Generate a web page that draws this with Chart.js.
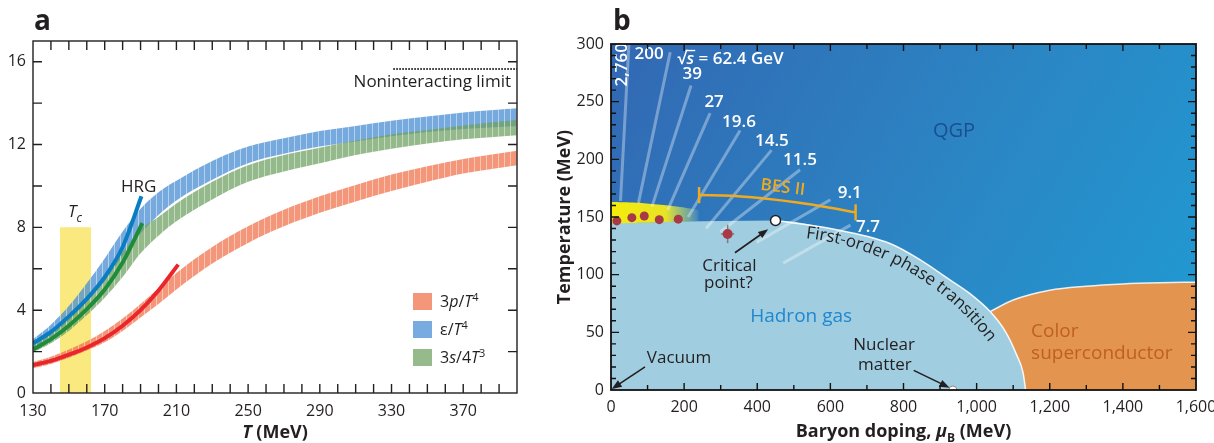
<!DOCTYPE html>
<html>
<head>
<meta charset="utf-8">
<script src="https://cdn.jsdelivr.net/npm/chart.js@4.4.0/dist/chart.umd.min.js"></script>
<style>
  html, body { margin: 0; padding: 0; background: #fff; }
  #wrap { position: relative; width: 1214px; height: 443px; }
  #chartA { position: absolute; left: 0; top: 0; }
  #chartB { position: absolute; left: 540px; top: 0; }
</style>
</head>
<body>
<div id="wrap">
  <canvas id="chartA" width="540" height="443"></canvas>
  <canvas id="chartB" width="674" height="443"></canvas>
</div>
<script>
// ---------- panel a: lattice thermodynamics ----------
const tempMeV = [130, 140, 150, 160, 170, 180, 190, 200, 210, 230, 250, 270, 290, 310, 330, 350, 370, 400];
const pressureHigh = [1.5, 1.75, 2.1, 2.5, 3.0, 3.6, 4.3, 5.05, 5.8, 7.05, 8.05, 8.85, 9.5, 10.05, 10.55, 10.95, 11.3, 11.7];
const pressureLow  = [1.2, 1.4, 1.7, 2.05, 2.45, 3.0, 3.65, 4.3, 5.0, 6.25, 7.25, 8.05, 8.7, 9.25, 9.75, 10.2, 10.6, 11.0];
const energyHigh   = [2.6, 3.3, 4.2, 5.3, 6.5, 7.8, 8.9, 9.7, 10.25, 11.2, 11.9, 12.3, 12.65, 12.9, 13.15, 13.35, 13.55, 13.75];
const energyLow    = [2.15, 2.75, 3.5, 4.4, 5.4, 6.6, 7.7, 8.6, 9.3, 10.3, 11.1, 11.55, 11.9, 12.15, 12.4, 12.6, 12.75, 12.9];
const entropyHigh  = [2.3, 2.85, 3.6, 4.5, 5.6, 6.8, 7.9, 8.5, 9.15, 10.2, 11.0, 11.5, 11.85, 12.2, 12.5, 12.7, 12.92, 13.2];
const entropyLow   = [1.95, 2.4, 3.0, 3.75, 4.6, 5.6, 6.75, 7.6, 8.3, 9.35, 10.2, 10.7, 11.1, 11.5, 11.8, 12.05, 12.25, 12.45];

// hadron resonance gas curves
const hrgPressureT = [130, 140, 150, 160, 170, 180, 190, 200, 211];
const hrgPressure  = [1.35, 1.55, 1.85, 2.2, 2.65, 3.25, 4.0, 4.95, 6.2];
const hrgEnergyT   = [130, 140, 150, 160, 170, 180, 190.5];
const hrgEnergy    = [2.4, 2.95, 3.7, 4.55, 5.6, 7.05, 9.5];
const hrgEntropyT  = [130, 140, 150, 160, 170, 180, 191];
const hrgEntropy   = [2.1, 2.6, 3.25, 4.05, 5.0, 6.3, 8.2];

const tcRange = [145, 162.5];
const tcTop = 8;
const freeLimit = 15.65;
const freeLimitFrom = 331;

const tempTicks = [130, 170, 210, 250, 290, 330, 370];
const ratioTicks = [0, 4, 8, 12, 16];

// ---------- panel b: phase diagram ----------
const hadronMu = [0, 100, 200, 300, 450, 600, 763, 850, 920, 980, 1037, 1080, 1110, 1127, 1134];
const hadronT  = [144.6, 145.2, 146, 146.5, 147, 140, 127, 112, 97, 84, 68, 50, 30, 15, 0];
const superMu  = [1037, 1100, 1200, 1300, 1400, 1500, 1600];
const superT   = [68, 78, 86.5, 90, 92, 93, 93.5];
const bandMu     = [0, 60, 120, 180, 240];
const bandTop    = [163, 162.5, 161, 159, 156];
const bandBottom = [144.6, 144.9, 145.3, 145.8, 146.3];
const freezeMu = [16, 57, 91, 132, 184];
const freezeT  = [146.6, 149.4, 150.9, 147.7, 148.1];
const estimateMu = 319, estimateT = 135.3, estimateMuErr = 18, estimateTErr = 8;
const criticalMu = 450, criticalT = 147;
const nuclearMu = 935;
// beam-energy scan trajectories
const scanStartMu = [26, 75, 112, 155, 211, 260, 299, 398, 471];
const scanStartT  = [164, 162, 159, 156, 150, 140, 137, 128, 110];
const scanEndMu   = [49, 162, 219, 271, 353, 439, 517, 600, 655];
const scanEndT    = [300, 293, 264, 240, 225, 208, 191, 165, 143];
const energyLabels = ['2,760', '200', '62.4', '39', '27', '19.6', '14.5', '11.5', '9.1', '7.7'];
const besMu = [241, 330, 420, 510, 600, 669];
const besT  = [169, 168.5, 166, 162.5, 158, 154];

const muTicks = [0, 200, 400, 600, 800, 1000, 1200, 1400, 1600];
const tempTicksB = [0, 50, 100, 150, 200, 250, 300];

const INK = '#231f20';
const FONT = "'Open Sans', 'Noto Sans', sans-serif";
Chart.defaults.font.family = FONT;
Chart.defaults.color = INK;
Chart.defaults.animation = false;
Chart.defaults.events = [];
Chart.defaults.plugins.legend.display = false;
Chart.defaults.plugins.tooltip.enabled = false;

const pts = (xs, ys) => xs.map((x, i) => ({ x, y: ys[i] }));
const NONE = 'rgba(0,0,0,0)';

// band fill with thin light vertical stripes
function stripes(color) {
  const c = document.createElement('canvas');
  c.width = 6; c.height = 4;
  const g = c.getContext('2d');
  g.fillStyle = color; g.fillRect(0, 0, 6, 4);
  g.fillStyle = 'rgba(255,255,255,0.45)'; g.fillRect(0, 0, 1, 4);
  return g.createPattern(c, 'repeat');
}

// text made of runs (italic, superscript, subscript)
function rich(ctx, parts, x, y, size, weight, align) {
  const fontOf = p => `${p.it ? 'italic ' : ''}${weight} ${(p.sup || p.sub) ? Math.round(size * 0.68) : size}px ${FONT}`;
  let w = 0;
  const ws = parts.map(p => { ctx.font = fontOf(p); const m = ctx.measureText(p.t).width; w += m; return m; });
  let cx = align === 'center' ? x - w / 2 : align === 'right' ? x - w : x;
  ctx.textAlign = 'left';
  ctx.textBaseline = 'alphabetic';
  parts.forEach((p, i) => {
    ctx.font = fontOf(p);
    const dy = p.sup ? -size * 0.4 : p.sub ? size * 0.28 : 0;
    ctx.fillText(p.t, cx, y + dy);
    cx += ws[i];
  });
  return w;
}

function arrow(ctx, x1, y1, x2, y2) {
  const a = Math.atan2(y2 - y1, x2 - x1), hl = 10, hw = 3.8;
  ctx.beginPath();
  ctx.moveTo(x1, y1);
  ctx.lineTo(x2 - Math.cos(a) * hl * 0.7, y2 - Math.sin(a) * hl * 0.7);
  ctx.stroke();
  ctx.beginPath();
  ctx.moveTo(x2, y2);
  ctx.lineTo(x2 - hl * Math.cos(a) + hw * Math.sin(a), y2 - hl * Math.sin(a) - hw * Math.cos(a));
  ctx.lineTo(x2 - hl * Math.cos(a) - hw * Math.sin(a), y2 - hl * Math.sin(a) + hw * Math.cos(a));
  ctx.closePath();
  ctx.fill();
}

function bandSets(low, high, fillStyle, order) {
  return [
    { data: pts(tempMeV, low), borderColor: NONE, borderWidth: 0, pointRadius: 0, fill: false, order, cubicInterpolationMode: 'monotone' },
    { data: pts(tempMeV, high), borderColor: NONE, borderWidth: 0, pointRadius: 0, fill: '-1', backgroundColor: fillStyle, order, cubicInterpolationMode: 'monotone' }
  ];
}

function hrgLine(xs, ys, color) {
  return { data: pts(xs, ys), borderColor: color, borderWidth: 4, pointRadius: 0, fill: false, order: 1, cubicInterpolationMode: 'monotone', borderCapStyle: 'butt' };
}

const panelA = {
  id: 'panelA',
  afterDraw(chart) {
    const { ctx, chartArea: ca, scales: { x, y } } = chart;
    ctx.save();
    ctx.strokeStyle = INK;
    ctx.fillStyle = INK;
    ctx.lineWidth = 1.4;
    ctx.strokeRect(ca.left, ca.top, ca.width, ca.height);
    ctx.beginPath();
    for (let t = 140; t < 400; t += 10) {
      const px = x.getPixelForValue(t);
      ctx.moveTo(px, ca.bottom); ctx.lineTo(px, ca.bottom - 9);
      ctx.moveTo(px, ca.top); ctx.lineTo(px, ca.top + 9);
    }
    for (let v = 2; v < 17; v += 2) {
      const py = y.getPixelForValue(v);
      ctx.moveTo(ca.left, py); ctx.lineTo(ca.left + 9, py);
      ctx.moveTo(ca.right, py); ctx.lineTo(ca.right - 9, py);
    }
    ctx.stroke();

    // annotations
    ctx.font = `17px ${FONT}`;
    ctx.textAlign = 'right';
    ctx.textBaseline = 'alphabetic';
    ctx.fillText('Noninteracting limit', ca.right - 6, y.getPixelForValue(freeLimit) + 18);
    ctx.textAlign = 'center';
    ctx.fillText('HRG', x.getPixelForValue(189), y.getPixelForValue(9.7));
    rich(ctx, [{ t: 'T', it: true }, { t: 'c', it: true, sub: true }], x.getPixelForValue(149.5), y.getPixelForValue(8.5), 17, 'normal', 'left');

    // legend
    const items = [
      { c: '#f4967a', parts: [{ t: '3' }, { t: 'p', it: true }, { t: '/' }, { t: 'T', it: true }, { t: '4', sup: true }] },
      { c: '#78abdf', parts: [{ t: 'ε/' }, { t: 'T', it: true }, { t: '4', sup: true }] },
      { c: '#97ba8c', parts: [{ t: '3' }, { t: 's', it: true }, { t: '/4' }, { t: 'T', it: true }, { t: '3', sup: true }] }
    ];
    const lx = ca.right - 104;
    let ly = y.getPixelForValue(4.83);
    items.forEach(it => {
      ctx.fillStyle = it.c;
      ctx.fillRect(lx, ly, 19, 17);
      ctx.fillStyle = INK;
      rich(ctx, it.parts, lx + 27, ly + 14, 16, 'normal', 'left');
      ly += 28;
    });

    // panel letter and axis title
    ctx.font = `bold 28px ${FONT}`;
    ctx.textAlign = 'left';
    ctx.fillText('a', ca.left + 1, ca.top - 11);
    rich(ctx, [{ t: 'T', it: true }, { t: ' (MeV)' }], (ca.left + ca.right) / 2, ca.bottom + 45, 18, 'bold', 'center');
    ctx.restore();
  }
};

new Chart(document.getElementById('chartA'), {
  type: 'line',
  data: {
    datasets: [
      hrgLine(hrgEnergyT, hrgEnergy, '#0a7dc2'),
      hrgLine(hrgEntropyT, hrgEntropy, '#1f8c3b'),
      hrgLine(hrgPressureT, hrgPressure, '#e8262b'),
      { data: [{ x: freeLimitFrom, y: freeLimit }, { x: 400, y: freeLimit }], borderColor: INK, borderWidth: 2, borderDash: [1.5, 1.5], pointRadius: 0, fill: false, order: 1 },
      ...bandSets(entropyLow, entropyHigh, stripes('rgba(112,162,100,0.75)'), 2),
      ...bandSets(energyLow, energyHigh, stripes('rgba(72,142,211,0.75)'), 3),
      ...bandSets(pressureLow, pressureHigh, stripes('rgba(240,115,78,0.75)'), 4),
      { data: [{ x: tcRange[0], y: tcTop }, { x: tcRange[1], y: tcTop }], borderColor: NONE, borderWidth: 0, pointRadius: 0, fill: 'origin', backgroundColor: '#f9e97e', order: 5 }
    ]
  },
  options: {
    responsive: false,
    layout: { padding: { top: 41, right: 23, left: 0, bottom: 0 } },
    scales: {
      x: {
        type: 'linear', min: 130, max: 400,
        grid: { display: false, drawTicks: false }, border: { display: false },
        ticks: { font: { size: 16 }, color: INK, padding: 9, maxRotation: 0, autoSkip: false },
        afterBuildTicks: s => { s.ticks = tempTicks.map(v => ({ value: v })); },
        afterFit: s => { s.height = 50; s.paddingLeft = 0; s.paddingRight = 0; }
      },
      y: {
        type: 'linear', min: 0, max: 17,
        grid: { display: false, drawTicks: false }, border: { display: false },
        ticks: { font: { size: 16 }, color: INK, padding: 7, autoSkip: false },
        afterBuildTicks: s => { s.ticks = ratioTicks.map(v => ({ value: v })); },
        afterFit: s => { s.width = 33; s.paddingTop = 0; s.paddingBottom = 0; }
      }
    }
  },
  plugins: [panelA]
});

// ---------- panel b ----------
const BES = '#efaa1f';
const dsB = [];
const add = d => { dsB.push(Object.assign({ pointRadius: 0, borderColor: NONE, borderWidth: 0, fill: false }, d)); return dsB.length - 1; };
const critIdx = hadronMu.indexOf(criticalMu);

add({ data: pts(superMu, superT), fill: 'origin', backgroundColor: '#e3954f', borderColor: 'rgba(255,255,255,0.85)', borderWidth: 1.5, order: 10, cubicInterpolationMode: 'monotone' });
add({ data: pts(hadronMu, hadronT), fill: 'origin', backgroundColor: '#a0cde0', order: 9, cubicInterpolationMode: 'monotone' });
add({ data: pts(hadronMu.slice(critIdx), hadronT.slice(critIdx)), borderColor: 'rgba(255,255,255,0.9)', borderWidth: 1.5, order: 8, cubicInterpolationMode: 'monotone' });
add({ data: pts(bandMu, bandBottom), order: 7, tension: 0.4 });
add({
  data: pts(bandMu, bandTop), fill: '-1', order: 7, tension: 0.4,
  backgroundColor: c => {
    const ch = c.chart;
    if (!ch.chartArea) return NONE;
    const xs = ch.scales.x;
    const g = ch.ctx.createLinearGradient(xs.getPixelForValue(0), 0, xs.getPixelForValue(250), 0);
    g.addColorStop(0, 'rgba(245,236,10,1)');
    g.addColorStop(0.6, 'rgba(240,234,30,0.95)');
    g.addColorStop(0.85, 'rgba(185,220,120,0.5)');
    g.addColorStop(1, 'rgba(160,210,225,0)');
    return g;
  }
});
scanStartMu.forEach((m, i) => add({
  data: [{ x: m, y: scanStartT[i] }, { x: scanEndMu[i], y: scanEndT[i] }],
  borderColor: 'rgba(255,255,255,0.35)', borderWidth: 3, order: 6
}));
add({ data: pts(besMu, besT), borderColor: BES, borderWidth: 2.5, order: 5, tension: 0.4 });
add({ data: [{ x: besMu[0], y: besT[0] - 7 }, { x: besMu[0], y: besT[0] + 7 }], borderColor: BES, borderWidth: 2.5, order: 5 });
const lastBes = besMu.length - 1;
add({ data: [{ x: besMu[lastBes], y: besT[lastBes] - 7 }, { x: besMu[lastBes], y: besT[lastBes] + 7 }], borderColor: BES, borderWidth: 2.5, order: 5 });
add({ data: [{ x: estimateMu - estimateMuErr, y: estimateT }, { x: estimateMu + estimateMuErr, y: estimateT }], borderColor: '#7d7d7d', borderWidth: 1.5, order: 4 });
add({ data: [{ x: estimateMu, y: estimateT - estimateTErr }, { x: estimateMu, y: estimateT + estimateTErr }], borderColor: '#7d7d7d', borderWidth: 1.5, order: 4 });
add({ data: [{ x: estimateMu, y: estimateT }], showLine: false, pointRadius: 5, pointBackgroundColor: '#a83a45', pointBorderWidth: 0, pointBorderColor: NONE, order: 3 });
add({ data: pts(freezeMu, freezeT), showLine: false, pointRadius: 4.5, pointBackgroundColor: '#a83a45', pointBorderWidth: 0, pointBorderColor: NONE, order: 3 });
add({ data: [{ x: criticalMu, y: criticalT }], showLine: false, pointRadius: 5, pointBackgroundColor: '#ffffff', pointBorderColor: '#222', pointBorderWidth: 1.5, order: 2 });
add({ data: [{ x: nuclearMu, y: 0 }], showLine: false, pointRadius: 4, pointBackgroundColor: '#ffffff', pointBorderColor: '#8a8a8a', pointBorderWidth: 1, order: 2, clip: 0 });

// characters placed along a circular arc, clockwise
function textOnArc(ctx, str, cx, cy, r, start) {
  let a = start;
  ctx.textAlign = 'center';
  ctx.textBaseline = 'alphabetic';
  for (const ch of str) {
    const w = ctx.measureText(ch).width;
    const mid = a + (w / 2) / r;
    ctx.save();
    ctx.translate(cx + r * Math.cos(mid), cy + r * Math.sin(mid));
    ctx.rotate(mid + Math.PI / 2);
    ctx.fillText(ch, 0, 0);
    ctx.restore();
    a += w / r;
  }
}

function circleThrough(p1, p2, p3) {
  const a1 = 2 * (p2.x - p1.x), b1 = 2 * (p2.y - p1.y), c1 = p2.x ** 2 + p2.y ** 2 - p1.x ** 2 - p1.y ** 2;
  const a2 = 2 * (p3.x - p2.x), b2 = 2 * (p3.y - p2.y), c2 = p3.x ** 2 + p3.y ** 2 - p2.x ** 2 - p2.y ** 2;
  const d = a1 * b2 - a2 * b1;
  const cx = (c1 * b2 - c2 * b1) / d, cy = (a1 * c2 - a2 * c1) / d;
  return { cx, cy, r: Math.hypot(p1.x - cx, p1.y - cy) };
}

const panelB = {
  id: 'panelB',
  beforeDatasetsDraw(chart) {
    const { ctx, chartArea: ca } = chart;
    ctx.save();
    const g = ctx.createLinearGradient(ca.left, ca.top, ca.right, ca.bottom);
    g.addColorStop(0, '#3268b3');
    g.addColorStop(0.55, '#2b86c4');
    g.addColorStop(1, '#1f9bd3');
    ctx.fillStyle = g;
    ctx.fillRect(ca.left, ca.top, ca.width, ca.height);
    ctx.restore();
  },
  afterDatasetsDraw(chart) {
    const { ctx, scales: { x, y } } = chart;
    const X = v => x.getPixelForValue(v), Y = v => y.getPixelForValue(v);
    ctx.save();

    // collision energies
    ctx.fillStyle = '#ffffff';
    ctx.font = `600 17px ${FONT}`;
    ctx.textBaseline = 'middle';
    ctx.save();
    ctx.translate(X(31), Y(282));
    ctx.rotate(-Math.PI / 2);
    ctx.textAlign = 'center';
    ctx.fillText(energyLabels[0], 0, 0);
    ctx.restore();
    const spots = [null, [104, 291], null, [222, 274], [282, 250], [350, 232], [440, 216], [517, 199], [653, 171], [703, 141]];
    ctx.textAlign = 'center';
    spots.forEach((s, i) => { if (s) ctx.fillText(energyLabels[i], X(s[0]), Y(s[1])); });
    // √s = 62.4 GeV
    const sx = X(181);
    const sy = Y(288) + 6;
    ctx.textAlign = 'left';
    ctx.textBaseline = 'alphabetic';
    ctx.font = `600 17px ${FONT}`;
    ctx.fillText('√', sx, sy);
    const rw = ctx.measureText('√').width;
    ctx.font = `italic 600 17px ${FONT}`;
    const swid = ctx.measureText('s').width;
    ctx.fillText('s', sx + rw, sy);
    ctx.fillRect(sx + rw - 1, sy - 14, swid + 2, 1.4);
    ctx.font = `600 17px ${FONT}`;
    ctx.fillText(` = ${energyLabels[2]} GeV`, sx + rw + swid, sy);

    // BES II
    ctx.save();
    ctx.translate(X(470), Y(175.5));
    ctx.rotate(0.12);
    ctx.fillStyle = BES;
    ctx.font = `600 17px ${FONT}`;
    ctx.textAlign = 'center';
    ctx.textBaseline = 'middle';
    ctx.fillText('BES II', 0, 0);
    ctx.restore();

    // region names
    ctx.textAlign = 'center';
    ctx.textBaseline = 'middle';
    ctx.font = `20px ${FONT}`;
    ctx.fillStyle = '#1b4f8f';
    ctx.fillText('QGP', X(938), Y(224.6));
    ctx.font = `19px ${FONT}`;
    ctx.fillStyle = '#1f87cf';
    ctx.fillText('Hadron gas', X(520), Y(63.6));
    ctx.fillStyle = '#c0601f';
    ctx.textAlign = 'left';
    ctx.fillText('Color', X(1149), Y(50.6));
    ctx.fillText('superconductor', X(1149), Y(31.8));

    ctx.fillStyle = INK;
    ctx.strokeStyle = INK;
    ctx.lineWidth = 1.6;
    ctx.font = `17px ${FONT}`;
    ctx.textAlign = 'center';
    ctx.fillText('Critical', X(324), Y(107.5));
    ctx.fillText('point?', X(321), Y(92.5));
    ctx.fillText('Vacuum', X(186), Y(27.5));
    ctx.fillText('Nuclear', X(747), Y(39));
    ctx.fillText('matter', X(749), Y(21.2));
    arrow(ctx, X(339), Y(119), X(430), Y(139.4));
    arrow(ctx, X(93), Y(20), X(2), Y(0.8));
    arrow(ctx, X(828), Y(17), X(926), Y(2));

    // label following the first-order line
    const i2 = hadronMu.indexOf(920), i3 = hadronMu.indexOf(1110);
    const c = circleThrough(
      { x: X(hadronMu[critIdx]), y: Y(hadronT[critIdx]) },
      { x: X(hadronMu[i2]), y: Y(hadronT[i2]) },
      { x: X(hadronMu[i3]), y: Y(hadronT[i3]) }
    );
    const a0 = Math.atan2(Y(hadronT[critIdx]) - c.cy, X(hadronMu[critIdx]) - c.cx);
    ctx.font = `17px ${FONT}`;
    textOnArc(ctx, 'First-order phase transition', c.cx, c.cy, c.r - 16, a0 + 32 / c.r);
    ctx.restore();
  },
  afterDraw(chart) {
    const { ctx, chartArea: ca, scales: { x, y } } = chart;
    ctx.save();
    ctx.strokeStyle = '#111';
    ctx.fillStyle = INK;
    ctx.lineWidth = 1.8;
    ctx.strokeRect(ca.left, ca.top, ca.width, ca.height);
    ctx.lineWidth = 1.4;
    ctx.beginPath();
    for (let m = 100; m < 1600; m += 100) {
      const px = x.getPixelForValue(m), len = m % 200 === 0 ? 7 : 5;
      ctx.moveTo(px, ca.bottom); ctx.lineTo(px, ca.bottom - len);
      ctx.moveTo(px, ca.top); ctx.lineTo(px, ca.top + len);
    }
    for (let t = 10; t < 300; t += 10) {
      const py = y.getPixelForValue(t), len = t % 50 === 0 ? 8 : 5;
      ctx.moveTo(ca.left, py); ctx.lineTo(ca.left + len, py);
      ctx.moveTo(ca.right, py); ctx.lineTo(ca.right - len, py);
    }
    ctx.stroke();

    ctx.font = `bold 28px ${FONT}`;
    ctx.textAlign = 'left';
    ctx.textBaseline = 'alphabetic';
    ctx.fillText('b', ca.left + 2, ca.top - 14);
    rich(ctx, [{ t: 'Baryon doping, ' }, { t: 'μ', it: true }, { t: 'B', sub: true }, { t: ' (MeV)' }], (ca.left + ca.right) / 2, ca.bottom + 47, 18, 'bold', 'center');
    ctx.save();
    ctx.translate(ca.left - 41, (ca.top + ca.bottom) / 2);
    ctx.rotate(-Math.PI / 2);
    ctx.font = `bold 18px ${FONT}`;
    ctx.textAlign = 'center';
    ctx.fillText('Temperature (MeV)', 0, 0);
    ctx.restore();
    ctx.restore();
  }
};

new Chart(document.getElementById('chartB'), {
  type: 'line',
  data: { datasets: dsB },
  options: {
    responsive: false,
    layout: { padding: { top: 44, right: 18, left: 0, bottom: 0 } },
    scales: {
      x: {
        type: 'linear', min: 0, max: 1600,
        grid: { display: false, drawTicks: false }, border: { display: false },
        ticks: { font: { size: 16 }, color: INK, padding: 8, maxRotation: 0, autoSkip: false, callback: v => v.toLocaleString('en-US') },
        afterBuildTicks: s => { s.ticks = muTicks.map(v => ({ value: v })); },
        afterFit: s => { s.height = 53; s.paddingLeft = 0; s.paddingRight = 0; }
      },
      y: {
        type: 'linear', min: 0, max: 300,
        grid: { display: false, drawTicks: false }, border: { display: false },
        ticks: { font: { size: 16 }, color: INK, padding: 7, autoSkip: false },
        afterBuildTicks: s => { s.ticks = tempTicksB.map(v => ({ value: v })); },
        afterFit: s => { s.width = 71; s.paddingTop = 0; s.paddingBottom = 0; }
      }
    }
  },
  plugins: [panelB]
});
</script>
</body>
</html>
